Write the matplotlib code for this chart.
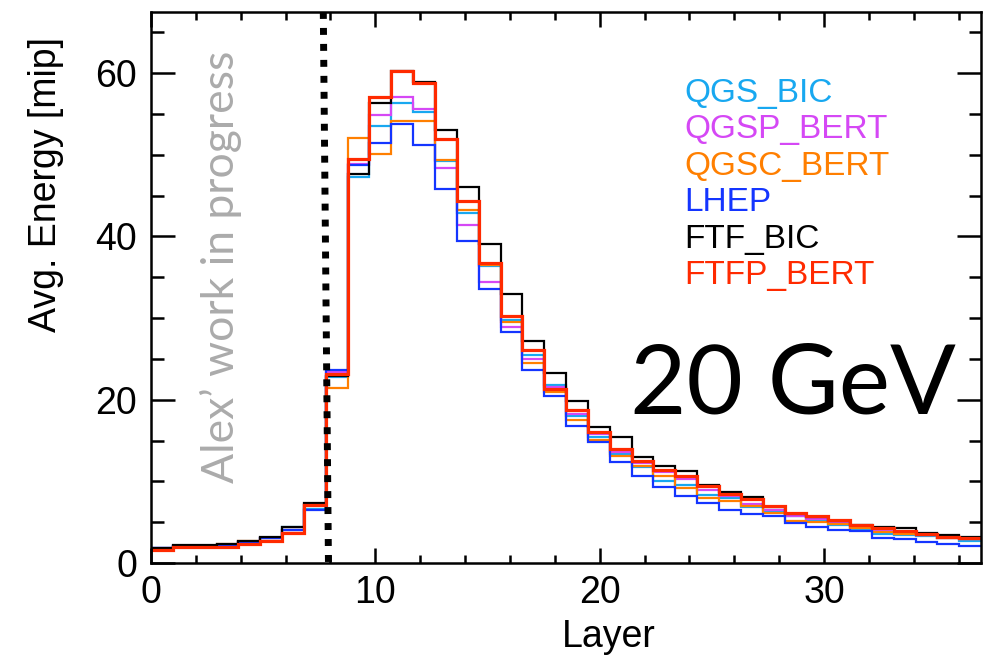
import numpy as np
import matplotlib.pyplot as plt
from matplotlib.ticker import MultipleLocator

plt.rcParams['font.family'] = ['Liberation Sans', 'DejaVu Sans']

# 38 layers spread over 0..37 on the x axis
n_layers = 38
layer_edges = np.linspace(0, 37, n_layers + 1)

qgs_bic = [1.8, 2.1, 2.1, 2.2, 2.6, 3.0, 4.45, 6.6, 22.8, 47.3, 53.5, 56.4, 55.2, 49.2,
           42.9, 36.4, 29.8, 25.5, 21.8, 18.0, 15.4, 13.3, 11.7, 10.1, 9.5, 8.3, 7.9,
           6.9, 6.2, 5.7, 5.2, 4.7, 4.2, 3.6, 3.4, 3.25, 3.0, 2.75]
qgsp_bert = [1.8, 2.05, 2.05, 2.2, 2.6, 3.0, 4.1, 7.1, 23.4, 48.9, 54.9, 57.1, 55.6, 48.4,
             41.4, 34.4, 28.9, 25.0, 21.5, 18.3, 15.8, 13.6, 12.2, 11.2, 10.3, 9.0, 8.2,
             7.2, 6.5, 5.7, 5.4, 5.0, 4.4, 4.0, 3.7, 3.4, 3.1, 2.9]
qgsc_bert = [1.75, 2.0, 2.05, 2.3, 2.7, 3.0, 4.0, 7.2, 21.4, 52.1, 50.1, 54.1, 54.1, 49.4,
             43.3, 36.5, 29.5, 24.5, 21.0, 17.5, 15.1, 13.1, 11.9, 10.6, 9.2, 7.9, 7.6,
             6.95, 6.1, 5.2, 5.0, 4.8, 4.3, 3.8, 3.6, 3.4, 3.1, 2.9]
lhep = [1.8, 2.1, 2.1, 2.2, 2.6, 3.0, 4.0, 6.5, 23.7, 48.7, 51.4, 53.8, 51.2, 45.8,
        39.4, 33.6, 28.3, 23.6, 20.5, 16.8, 14.8, 12.4, 10.7, 9.35, 8.2, 7.3, 6.5,
        6.0, 5.7, 4.95, 4.45, 4.05, 3.95, 3.1, 2.95, 2.55, 2.3, 2.1]
ftf_bic = [1.8, 2.15, 2.15, 2.3, 2.75, 3.15, 4.35, 7.4, 22.9, 47.7, 56.3, 60.3, 58.95, 53.0,
           46.1, 39.1, 33.0, 27.2, 23.3, 19.9, 16.7, 15.4, 13.0, 11.9, 11.3, 9.6, 8.75,
           8.1, 6.8, 6.0, 5.6, 5.1, 4.65, 4.4, 4.25, 3.7, 3.45, 3.2]
ftfp_bert = [1.65, 1.9, 1.9, 2.0, 2.35, 2.75, 3.7, 7.1, 23.1, 49.5, 57.1, 60.3, 58.8, 51.9,
             44.3, 36.8, 30.2, 26.1, 21.3, 18.8, 16.1, 14.0, 12.5, 11.4, 10.7, 9.4, 8.45,
             7.85, 7.0, 6.1, 5.8, 5.3, 4.6, 4.25, 3.95, 3.6, 3.2, 3.0]

models = ['QGS_BIC', 'QGSP_BERT', 'QGSC_BERT', 'LHEP', 'FTF_BIC', 'FTFP_BERT']
series = [qgs_bic, qgsp_bert, qgsc_bert, lhep, ftf_bic, ftfp_bert]
colors = ['#18A8F0', '#D548F5', '#FF7F00', '#1435FF', '#000000', '#FF2A00']
widths = [1.6, 1.6, 1.6, 1.6, 1.6, 2.3]

fig = plt.figure(figsize=(9.83, 6.65), dpi=100)
ax = fig.add_axes([0.1536, 0.1534, 0.8445, 0.8286])

for vals, c, lw in zip(series, colors, widths):
    ax.stairs(vals, layer_edges, baseline=None, color=c, linewidth=lw)

# dotted marker line (slightly slanted, as drawn in the original)
ax.plot([7.68, 7.91], [67.5, 0], color='black', linewidth=5,
        linestyle=(0, (1, 1.3)), dash_capstyle='butt', zorder=5)

ax.set_xlim(0, 37)
ax.set_ylim(0, 67.5)
ax.xaxis.set_major_locator(MultipleLocator(10))
ax.xaxis.set_minor_locator(MultipleLocator(2))
ax.yaxis.set_major_locator(MultipleLocator(20))
ax.yaxis.set_minor_locator(MultipleLocator(5))

ax.tick_params(which='both', direction='in', top=True, right=True, width=1.8,
               labelsize=27)
ax.tick_params(axis='x', which='major', length=11, pad=9)
ax.tick_params(axis='x', which='minor', length=5.5)
ax.tick_params(axis='y', which='major', length=17, pad=10)
ax.tick_params(axis='y', which='minor', length=9)
for s in ax.spines.values():
    s.set_linewidth(1.8)

ax.set_xlabel('Layer', fontsize=27, va='center')
ax.xaxis.set_label_coords(0.552, -0.134)
ax.set_ylabel('Avg. Energy [mip]', fontsize=27, va='center')
ax.yaxis.set_label_coords(-0.127, 0.686)

# legend as coloured text lines
for i, (name, c) in enumerate(zip(models, colors)):
    ax.text(0.642, 0.8367 - i * 0.0662, name, color=c, fontsize=24,
            transform=ax.transAxes, va='baseline', ha='left')

ax.text(0.0998, 0.145, 'Alex\u2019 work in progress', color='#ABABAB', fontsize=32,
        family=['Lato', 'DejaVu Sans'], rotation=90, rotation_mode='anchor',
        ha='left', va='baseline', transform=ax.transAxes)

ax.text(0.577, 0.272, '20 GeV', color='black', fontsize=70,
        family=['Lato', 'DejaVu Sans'], ha='left', va='baseline',
        transform=ax.transAxes)

fig.savefig('out.png', dpi=100)
